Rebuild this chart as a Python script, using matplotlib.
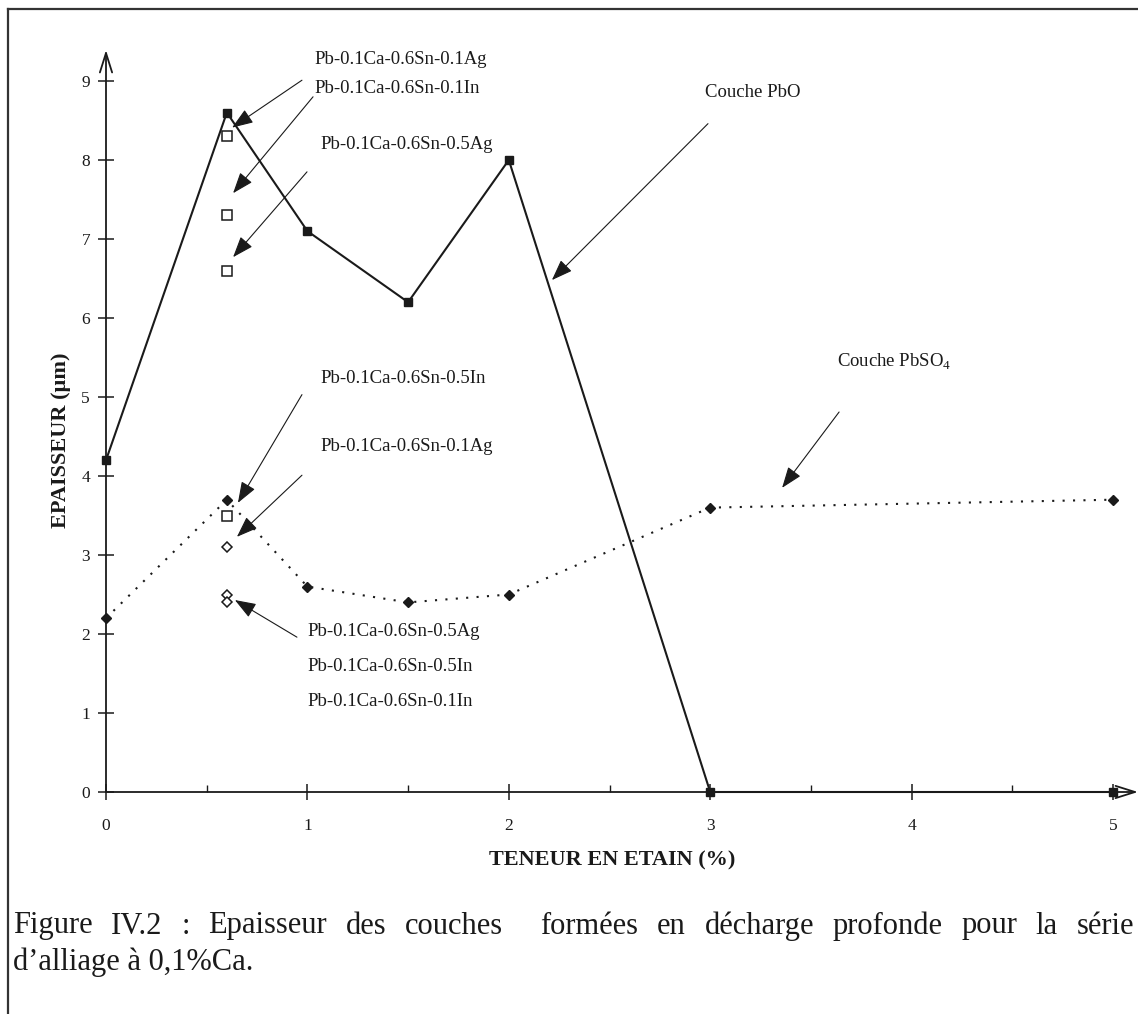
import matplotlib
matplotlib.use("Agg")
import matplotlib.pyplot as plt
from matplotlib.lines import Line2D
import numpy as np

plt.rcParams['font.family'] = ['Liberation Serif', 'DejaVu Serif']
plt.rcParams['mathtext.fontset'] = 'custom'
plt.rcParams['mathtext.rm'] = 'Liberation Serif'

# ---------------- data ----------------
tin = [0, 0.6, 1, 1.5, 2, 3, 5]
pbo = [4.2, 8.6, 7.1, 6.2, 8.0, 0, 0]
pbso4 = [2.2, 3.7, 2.6, 2.4, 2.5, 3.6, 3.7]
alloy_x = 0.6
pbo_alloys = [8.3, 7.3, 6.6]          # open squares (PbO, alloyed)
pbso4_alloy_sq = [3.5]                # open square (PbSO4)
pbso4_alloy_dm = [3.1, 2.5, 2.4]      # open diamonds (PbSO4)
x_ticks = [0, 1, 2, 3, 4, 5]
y_ticks = [0, 1, 2, 3, 4, 5, 6, 7, 8, 9]
xlabel = "TENEUR EN ETAIN (%)"
ylabel = "EPAISSEUR (µm)"

# annotation texts: (label, x, y)
labels = [
    ("Pb-0.1Ca-0.6Sn-0.1Ag", 1.037, 9.27),
    ("Pb-0.1Ca-0.6Sn-0.1In", 1.037, 8.91),
    ("Pb-0.1Ca-0.6Sn-0.5Ag", 1.063, 8.19),
    ("Couche PbO", 2.974, 8.86),
    ("Couche PbSO$_4$", 3.630, 5.44),
    ("Pb-0.1Ca-0.6Sn-0.5In", 1.063, 5.23),
    ("Pb-0.1Ca-0.6Sn-0.1Ag", 1.063, 4.37),
    ("Pb-0.1Ca-0.6Sn-0.5Ag", 0.998, 2.03),
    ("Pb-0.1Ca-0.6Sn-0.5In", 0.998, 1.59),
    ("Pb-0.1Ca-0.6Sn-0.1In", 0.998, 1.15),
]
# arrows: (start_x, start_y, tip_x, tip_y)
arrows = [
    (0.973, 9.01, 0.626, 8.41),
    (1.028, 8.80, 0.631, 7.58),
    (0.998, 7.85, 0.631, 6.77),
    (2.989, 8.46, 2.214, 6.48),
    (3.640, 4.81, 3.357, 3.85),
    (0.973, 5.03, 0.655, 3.66),
    (0.973, 4.01, 0.650, 3.23),
    (0.948, 1.96, 0.640, 2.43),
]
caption1 = ["Figure", "IV.2", ":", "Epaisseur", "des", "couches", "formées",
            "en", "décharge", "profonde", "pour", "la", "série"]
caption1_gaps = [1, 1, 1, 1, 1, 2, 1, 1, 1, 1, 1, 1]
caption2 = "d\u2019alliage à 0,1%Ca."

# ---------------- figure ----------------
W, H = 1138, 1014
fig = plt.figure(figsize=(W / 100, H / 100), dpi=100)
ax = fig.add_axes([106 / W, 1 - 792 / H, (W - 106) / W, (792 - 50) / H])
ax.set_xlim(0, (W - 106) / 201.4)
ax.set_ylim(0, (792 - 50) / 79.0)
for s in ax.spines.values():
    s.set_visible(False)

ink = '#1a1a1a'
# axes with arrow heads
for end in [(0, 1), (1, 0)]:
    ax.annotate('', xy=end, xytext=(0, 0), xycoords='axes fraction',
                arrowprops=dict(arrowstyle='->,head_length=0.7,head_width=0.22',
                                lw=1.3, color=ink, shrinkA=0, shrinkB=0,
                                mutation_scale=20), annotation_clip=False)

# series
ax.plot(tin, pbo, '-', color=ink, lw=1.5, marker='s', ms=6.2, mfc=ink,
        mec=ink, zorder=3, clip_on=False)
ax.plot(tin, pbso4, color=ink, lw=1.5, ls=(0, (1, 4)), marker='D', ms=5.2,
        mfc=ink, mec=ink, zorder=3, clip_on=False)
ax.plot([alloy_x] * len(pbo_alloys), pbo_alloys, 's', ms=6.5, mfc='white',
        mec=ink, mew=1.1, ls='none', zorder=4)
ax.plot([alloy_x] * len(pbso4_alloy_sq), pbso4_alloy_sq, 's', ms=6.5,
        mfc='white', mec=ink, mew=1.1, ls='none', zorder=4)
ax.plot([alloy_x] * len(pbso4_alloy_dm), pbso4_alloy_dm, 'D', ms=5,
        mfc='white', mec=ink, mew=1.1, ls='none', zorder=4)

# annotations
for txt, x, y in labels:
    ax.text(x, y, txt, fontsize=13.5, ha='left', va='center', color=ink)
for sx, sy, tx, ty in arrows:
    ax.annotate('', xy=(tx, ty), xytext=(sx, sy),
                arrowprops=dict(arrowstyle='-|>,head_length=0.65,head_width=0.24',
                                lw=0.8, color=ink, shrinkA=0, shrinkB=0,
                                mutation_scale=20))

# ticks
ax.set_xticks(x_ticks)
ax.set_xticklabels([str(v) for v in x_ticks])
ax.set_xticks(np.arange(0.5, 5, 1), minor=True)
ax.set_yticks(y_ticks)
ax.set_yticklabels([str(v) for v in y_ticks])
ax.tick_params(axis='both', which='major', direction='inout', length=11,
               width=1.1, color=ink, labelcolor=ink, labelsize=12.5)
ax.tick_params(axis='y', pad=6)
ax.tick_params(axis='x', pad=13)
ax.tick_params(axis='x', which='minor', direction='in', length=5, width=1.0,
               color=ink)

ax.set_xlabel(xlabel, fontsize=16, fontweight='bold', color=ink, va='center')
ax.xaxis.set_label_coords((612 - 106) / (W - 106), (792 - 860) / (792 - 50))
ax.set_ylabel(ylabel, fontsize=16, fontweight='bold', color=ink, va='center')
ax.yaxis.set_label_coords((61 - 106) / (W - 106), (792 - 440) / (792 - 50))

# page frame (left and top border)
fig.add_artist(Line2D([8 / W, 8 / W], [0, 1 - 9 / H], color='#333333', lw=1.6))
fig.add_artist(Line2D([8 / W, 1], [1 - 9 / H, 1 - 9 / H], color='#333333', lw=1.6))

# caption, justified first line
renderer = fig.canvas.get_renderer()
cap_fs = 22
y1 = 1 - 926 / H
objs = [fig.text(0, y1, w, fontsize=cap_fs, ha='left', va='center', color=ink)
        for w in caption1]
widths = [o.get_window_extent(renderer).width for o in objs]
x_left, x_right = 13, 1134
unit = (x_right - x_left - sum(widths)) / sum(caption1_gaps)
xpos = x_left
for i, o in enumerate(objs):
    o.set_x(xpos / W)
    xpos += widths[i] + (unit * caption1_gaps[i] if i < len(caption1_gaps) else 0)
fig.text(13 / W, 1 - 962 / H, caption2, fontsize=cap_fs, ha='left',
         va='center', color=ink)

fig.savefig('out.png', dpi=100)
